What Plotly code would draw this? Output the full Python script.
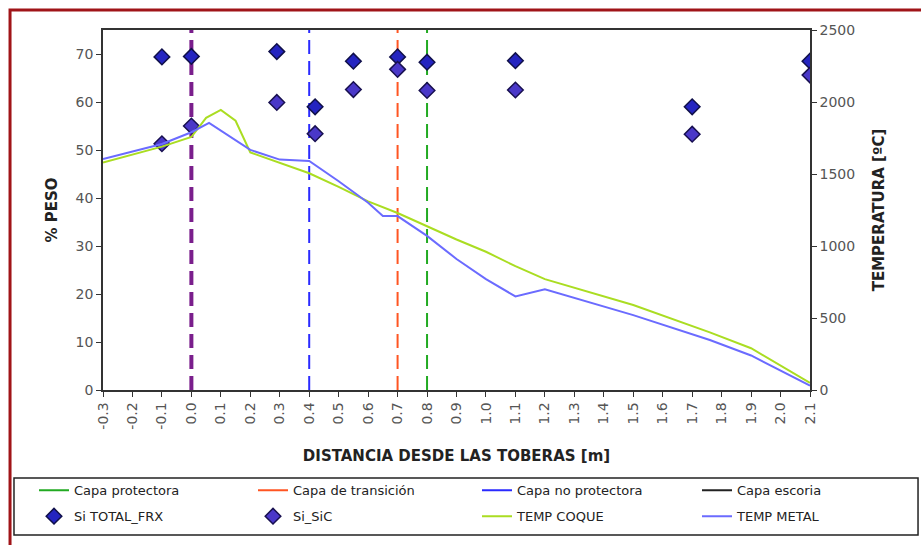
import plotly.graph_objects as go

# ---------------- DATA ----------------
x_tickvals = [-0.3, -0.2, -0.1, 0.0, 0.1, 0.2, 0.3, 0.4, 0.5, 0.6, 0.7, 0.8, 0.9,
              1.0, 1.1, 1.2, 1.3, 1.4, 1.5, 1.6, 1.7, 1.8, 1.9, 2.0, 2.1]
x_ticktext = ["-0.3", "-0.2", "-0.1", "0.0", "0.1", "0.2", "0.3", "0.4", "0.5", "0.6",
              "0.7", "0.8", "0.9", "1.0", "1.1", "1.2", "1.3", "1.4", "1.5", "1.6",
              "1.7", "1.8", "1.9", "2.0", "2.1"]

# layer boundaries (x position, m)
capa_protectora_x = 0.8
capa_transicion_x = 0.7
capa_no_protectora_x = 0.4
capa_escoria_x = 0.0

# Si measurements (% peso)
si_x = [-0.1, 0.0, 0.29, 0.42, 0.55, 0.7, 0.8, 1.1, 1.7, 2.1]
si_total_frx = [69.4, 69.5, 70.5, 59.0, 68.5, 69.4, 68.3, 68.6, 59.0, 68.5]
si_sic = [51.3, 55.0, 59.9, 53.4, 62.6, 66.8, 62.4, 62.5, 53.3, 65.6]

# temperatures (ºC)
coque_x = [-0.3, -0.1, 0.0, 0.05, 0.1, 0.15, 0.2, 0.3, 0.4, 0.5, 0.6, 0.7, 0.8,
           0.9, 1.0, 1.1, 1.2, 1.5, 1.76, 1.9, 2.1]
temp_coque = [1580, 1690, 1757, 1890, 1945, 1870, 1650, 1580, 1505, 1410, 1310, 1229,
              1135, 1045, 960, 860, 770, 590, 400, 290, 50]
metal_x = [-0.3, -0.1, 0.0, 0.06, 0.2, 0.3, 0.4, 0.5, 0.6, 0.65, 0.7, 0.8, 0.9,
           1.0, 1.1, 1.2, 1.5, 1.76, 1.9, 2.1]
temp_metal = [1604, 1708, 1790, 1855, 1667, 1600, 1590, 1450, 1300, 1208, 1208, 1070,
              910, 770, 650, 700, 520, 347, 240, 30]

FONT = "DejaVu Sans, Liberation Sans, Arial, sans-serif"

fig = go.Figure()

def vline(xv, color, name, legend_color, width, legend):
    fig.add_trace(go.Scatter(x=[xv, xv], y=[0, 75], mode="lines",
                             line=dict(color=color, width=width, dash="14px,7px"),
                             showlegend=False, hoverinfo="skip"))
    fig.add_trace(go.Scatter(x=[None], y=[None], mode="lines", name=name,
                             legend=legend, legendgroup=name,
                             line=dict(color=legend_color, width=2)))

vline(capa_protectora_x, "#22aa22", "Capa protectora", "#22aa22", 2, "legend")
vline(capa_transicion_x, "#ff5522", "Capa de transición", "#ff5522", 2, "legend2")
vline(capa_no_protectora_x, "#2a2aff", "Capa no protectora", "#2a2aff", 2, "legend3")
vline(capa_escoria_x, "#7a1e8c", "Capa escoria", "#222222", 4, "legend4")

fig.add_trace(go.Scatter(x=si_x, y=si_total_frx, mode="markers", name="Si TOTAL_FRX",
                         legend="legend", legendgroup="frx",
                         marker=dict(symbol="diamond", size=12, color="#2424c0",
                                     line=dict(color="#10104a", width=1.5))))
fig.add_trace(go.Scatter(x=si_x, y=si_sic, mode="markers", name="Si_SiC",
                         legend="legend2", legendgroup="sic",
                         marker=dict(symbol="diamond", size=12, color="#4a38c8",
                                     line=dict(color="#181050", width=1.5))))

fig.add_trace(go.Scatter(x=coque_x, y=temp_coque, mode="lines", name="TEMP COQUE",
                         legend="legend3", legendgroup="coque",
                         yaxis="y2", line=dict(color="#aadd22", width=2)))
fig.add_trace(go.Scatter(x=metal_x, y=temp_metal, mode="lines", name="TEMP METAL",
                         legend="legend4", legendgroup="metal",
                         yaxis="y2", line=dict(color="#6b6bff", width=2)))

axis_common = dict(showgrid=False, zeroline=False, showline=True, linecolor="#333",
                   linewidth=1.5, ticks="outside", ticklen=5, tickcolor="#333",
                   automargin=False,
                   tickfont=dict(family=FONT, size=14, color="#555"))

def legend_at(px_left):
    return dict(orientation="v", x=(px_left - 103) / 707, y=-0.237,
                xanchor="left", yanchor="top",
                font=dict(family=FONT, size=13, color="#222"),
                bgcolor="rgba(0,0,0,0)", borderwidth=0, itemwidth=30,
                tracegroupgap=6)

fig.update_layout(
    width=921, height=545,
    margin=dict(l=103, r=111, t=30, b=155),
    paper_bgcolor="white", plot_bgcolor="white",
    font=dict(family=FONT, color="#222"),
    xaxis=dict(range=[-0.3, 2.1], tickvals=x_tickvals, ticktext=x_ticktext,
               tickangle=-90, mirror=True,
               title=dict(text="<b>DISTANCIA DESDE LAS TOBERAS [m]</b>",
                          font=dict(size=15, color="#222"), standoff=22),
               **axis_common),
    yaxis=dict(range=[0, 75], tickvals=[0, 10, 20, 30, 40, 50, 60, 70],
               title=dict(text="<b>% PESO</b>", font=dict(size=15, color="#222"),
                          standoff=14),
               **axis_common),
    yaxis2=dict(range=[0, 2500], tickvals=[0, 500, 1000, 1500, 2000, 2500],
                overlaying="y", side="right",
                title=dict(text="<b>TEMPERATURA [ºC]</b>", font=dict(size=15, color="#222"),
                           standoff=19),
                **axis_common),
    legend=legend_at(34),
    legend2=legend_at(253),
    legend3=legend_at(477),
    legend4=legend_at(697),
    shapes=[
        dict(type="rect", xref="paper", yref="paper",
             x0=-0.1259, x1=1.1528, y0=-0.4028, y1=-0.2444,
             line=dict(color="#222", width=1.5)),
        dict(type="rect", xref="paper", yref="paper",
             x0=-0.1315, x1=1.2, y0=-0.5, y1=1.0556,
             line=dict(color="#a01418", width=3)),
    ],
)

fig.write_html("out.html")
